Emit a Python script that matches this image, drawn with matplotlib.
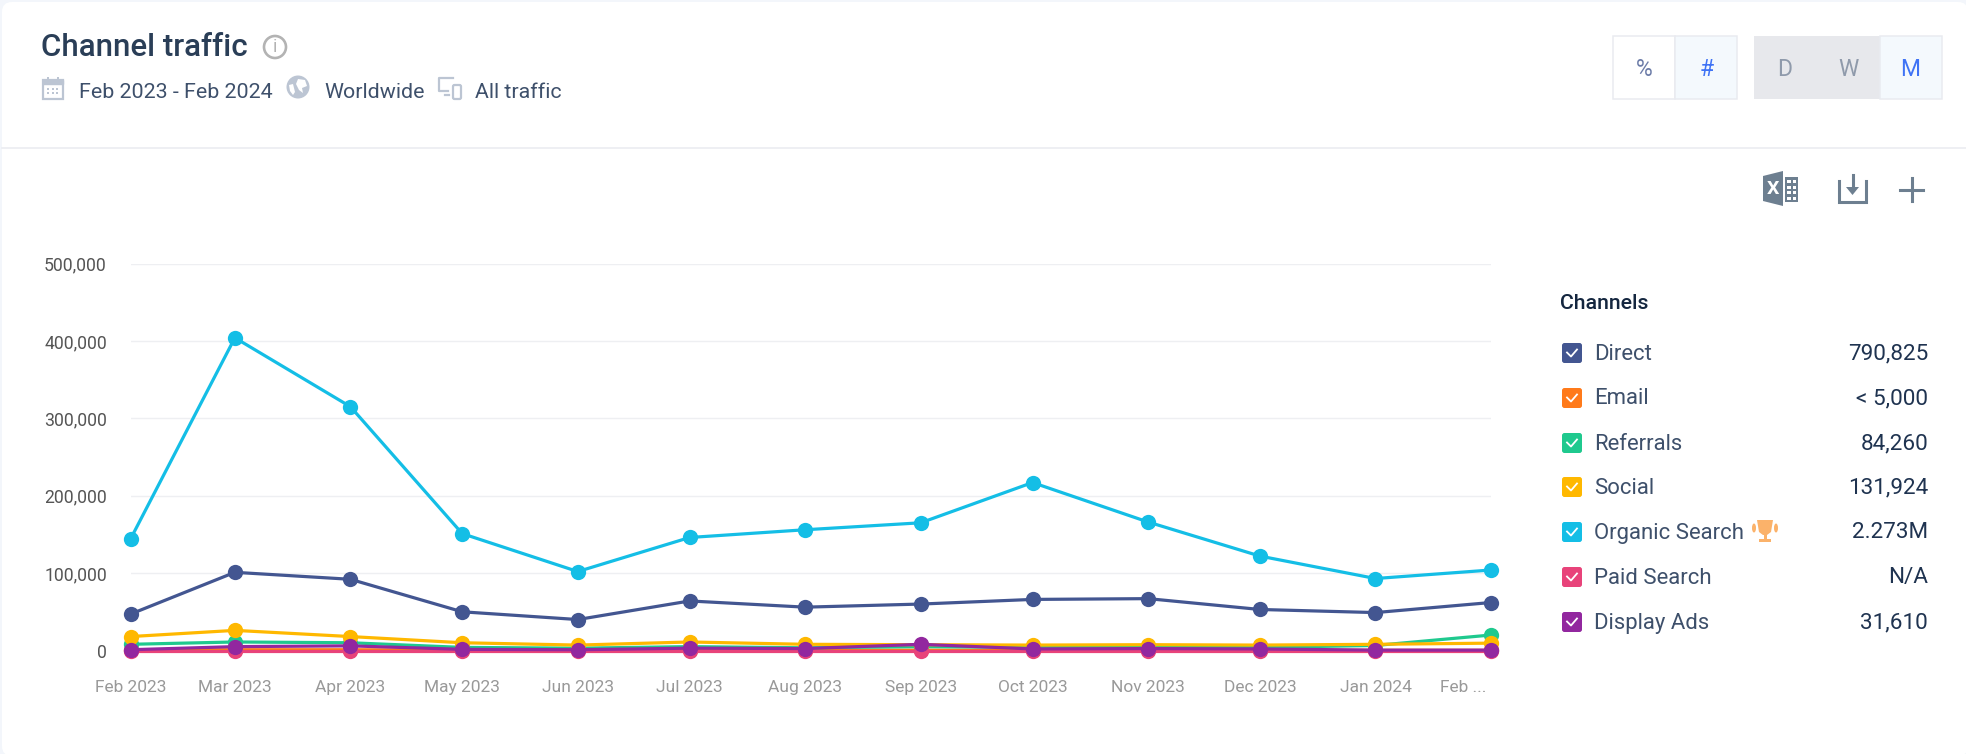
import numpy as np
import matplotlib
matplotlib.use("Agg")
import matplotlib.pyplot as plt
import matplotlib.dates as mdates
from matplotlib.patches import Rectangle, FancyBboxPatch, Circle, Polygon, Ellipse
from matplotlib.transforms import ScaledTranslation
from datetime import date

W, H = 1966, 754
plt.rcParams['font.family'] = ['Roboto', 'DejaVu Sans']

# data
months = [date(2023, m, 1) for m in range(2, 13)] + [date(2024, 1, 1), date(2024, 2, 1)]
month_labels = ["Feb 2023", "Mar 2023", "Apr 2023", "May 2023", "Jun 2023", "Jul 2023", "Aug 2023",
                "Sep 2023", "Oct 2023", "Nov 2023", "Dec 2023", "Jan 2024", "Feb ..."]
direct = [47000, 101000, 92000, 50000, 40000, 64000, 56000, 60000, 66000, 67000, 53000, 49000, 62000]
email = [500, 1000, 1000, 400, 300, 400, 300, 400, 300, 300, 300, 200, 200]
referrals = [8000, 11000, 10000, 4000, 3000, 5000, 3500, 5000, 4000, 4500, 4000, 6500, 20000]
social = [18000, 26000, 18000, 10000, 7000, 11000, 8000, 7500, 7000, 7500, 7000, 8000, 9500]
organic = [144000, 404000, 315000, 151000, 102000, 146000, 156000, 165000, 217000, 166000, 122000, 93000, 104000]
paid = [0, 0, 0, 0, 0, 0, 0, 0, 0, 0, 0, 0, 0]
display = [1000, 5000, 6000, 1500, 1000, 3000, 2500, 8000, 2000, 2500, 2000, 500, 500]

names = ["Direct", "Email", "Referrals", "Social", "Organic Search", "Paid Search", "Display Ads"]
totals = ["790,825", "< 5,000", "84,260", "131,924", "2.273M", "N/A", "31,610"]
colors = ["#435691", "#FF7A1A", "#1FC98E", "#FFB800", "#14BEE6", "#E8437A", "#92279F"]
series = [direct, email, referrals, social, organic, paid, display]
yticks = [0, 100000, 200000, 300000, 400000, 500000]

fig = plt.figure(figsize=(W / 100, H / 100), dpi=100, facecolor="white")

# page overlay in pixel coordinates, for the card and its controls
bg = fig.add_axes([0, 0, 1, 1], zorder=0)
bg.set_xlim(0, W); bg.set_ylim(H, 0); bg.axis("off")
bg.add_patch(Rectangle((0, 0), W, H, fc="#F3F6FB", ec="none"))
bg.add_patch(FancyBboxPatch((2, 2), W, H, boxstyle="round,pad=0,rounding_size=10", fc="white", ec="none"))
bg.plot([2, W], [148, 148], color="#E9EBF0", lw=1.1)

navy = "#2A3E57"
bg.text(41, 47.5, "Channel traffic", fontsize=22.5, fontweight=500, color=navy, va="center")
bg.add_patch(Circle((275, 47), 11, fc="none", ec="#B3B3B3", lw=1.9))
bg.text(275, 47, "i", fontsize=13, color="#B3B3B3", ha="center", va="center")
for x, s in [(79, "Feb 2023 - Feb 2024"), (324, "Worldwide"), (475, "All traffic")]:
    bg.text(x, 92.5, s, fontsize=15.4, color="#3E506B", va="center")

# little header icons
ic = "#BCC5D3"
bg.add_patch(Rectangle((43, 80), 20, 19, fc="none", ec=ic, lw=1.6))
bg.add_patch(Rectangle((43, 80), 20, 4, fc=ic, ec=ic, lw=1))
bg.add_patch(Rectangle((47, 77), 2, 4, fc=ic, ec="none"))
bg.add_patch(Rectangle((57, 77), 2, 4, fc=ic, ec="none"))
for i in range(3):
    for j in range(2):
        bg.add_patch(Rectangle((47 + i * 4.5, 88 + j * 4), 2.4, 2.4, fc=ic, ec="none"))
bg.add_patch(Circle((298, 87), 11.5, fc=ic, ec="none"))
bg.add_patch(Polygon([[298, 79], [305, 80], [307, 86], [302, 88], [303, 93], [299, 90], [296, 84]], fc="white", ec="none"))
bg.add_patch(Polygon([[289, 85], [293, 84], [295, 92], [293, 95], [290, 91]], fc="white", ec="none"))
bg.plot([453, 439, 439, 448], [78, 78, 91, 91], color=ic, lw=1.6)
bg.add_patch(FancyBboxPatch((453, 85), 8, 14, boxstyle="round,pad=0,rounding_size=1.5", fc="white", ec=ic, lw=1.6))
bg.plot([445, 449], [95, 95], color=ic, lw=1.6)

# % / # and D / W / M toggles
bg.add_patch(Rectangle((1613, 36), 62, 63, fc="white", ec="#E9EBF0", lw=1.1))
bg.add_patch(Rectangle((1675, 36), 62, 63, fc="#F4F9FD", ec="#E9EBF0", lw=1.1))
bg.add_patch(Rectangle((1754, 36), 126, 63, fc="#E7E8EC", ec="none"))
bg.add_patch(Rectangle((1880, 36), 62, 63, fc="#F4F9FD", ec="#E9EBF0", lw=1.1))
blue = "#3F73F5"
for x, s, c in [(1644, "%", "#6C7CA8"), (1707, "#", blue), (1785, "D", "#8F9AAB"), (1848, "W", "#8F9AAB"), (1910, "M", blue)]:
    bg.text(x, 69.5, s, fontsize=16.5, color=c, ha="center", va="center")

# toolbar icons
tool = "#6D7F90"
bg.add_patch(Polygon([[1763, 176], [1783, 171], [1783, 206], [1763, 201]], fc=tool, ec="none"))
bg.text(1773, 189, "X", fontsize=14, fontweight="bold", color="white", ha="center", va="center")
bg.add_patch(Rectangle((1785, 177), 13, 25, fc=tool, ec="none"))
for j in range(4):
    bg.add_patch(Rectangle((1787, 180 + j * 5.5), 4, 3, fc="white", ec="none"))
    bg.add_patch(Rectangle((1793, 180 + j * 5.5), 3, 3, fc="white", ec="none"))
bg.plot([1839, 1839, 1866, 1866], [181, 202, 202, 181], color=tool, lw=2.2, solid_joinstyle="miter")
bg.plot([1852.5, 1852.5], [175, 190], color=tool, lw=2.2)
bg.add_patch(Polygon([[1846, 187], [1859, 187], [1852.5, 195]], fc=tool, ec="none"))
bg.plot([1900, 1923], [189.5, 189.5], color=tool, lw=2.2)
bg.plot([1911.5, 1911.5], [178, 201], color=tool, lw=2.2)

# legend column
bg.text(1560, 303.5, "Channels", fontsize=15.3, fontweight=500, color="#14263F", va="center")
ly = [353, 398, 443, 487, 532, 577, 622]
for y, name, total, c in zip(ly, names, totals, colors):
    bg.add_patch(FancyBboxPatch((1562, y - 10), 20, 20, boxstyle="round,pad=0,rounding_size=2.5", fc=c, ec="none"))
    bg.plot([1567, 1571, 1577], [y - 0.5, y + 3.5, y - 3.5], color="white", lw=1.3)
    bg.text(1594.5, y + 1, name, fontsize=15.9, color="#3E506B", va="center")
    bg.text(1928, y + 1, total, fontsize=16.2, color="#1F3350", ha="right", va="center")
# trophy next to Organic Search
tro = "#FBB26A"
bg.add_patch(Polygon([[1757, 520], [1773, 520], [1771, 532], [1767, 535], [1763, 535], [1759, 532]], fc=tro, ec="none"))
bg.add_patch(Rectangle((1763.5, 534), 3, 5, fc=tro, ec="none"))
bg.add_patch(Rectangle((1759, 539), 12, 3, fc=tro, ec="none"))
bg.add_patch(Ellipse((1754, 528), 4, 9, fc=tro, ec="none"))
bg.add_patch(Ellipse((1776, 528), 4, 9, fc=tro, ec="none"))

# chart, x axis is real time so months fall unevenly like in the original
left, right, y0, y5 = 130.5, 1491, 650.5, 263.5
ax = fig.add_axes([left / W, 1 - y0 / H, (right - left) / W, (y0 - y5) / H], zorder=2)
ax.patch.set_alpha(0)
x = mdates.date2num(months)
for vals, c in zip(series, colors):
    ax.plot(x, vals, color=c, lw=2.3, marker="o", ms=11, mew=0, clip_on=False)
ax.set_xlim(x[0], x[-1])
ax.set_ylim(0, 500000)
ax.set_yticks(yticks)
ax.set_yticklabels([f"{v:,}" for v in yticks], fontsize=12.7, color="#555555")
ax.set_xticks(x)
ax.set_xticklabels(month_labels, fontsize=12.5, color="#999999")
ax.tick_params(axis="both", length=0)
ax.tick_params(axis="y", pad=17)
ax.tick_params(axis="x", pad=21)
# the last label is cut short and pulled inside the plot edge
last = ax.get_xticklabels()[-1]
last.set_ha("right")
last.set_transform(last.get_transform() + ScaledTranslation(-5 / 100, 0, fig.dpi_scale_trans))
ax.grid(axis="y", color="#EEEFF2", lw=1)
ax.set_axisbelow(True)
for s in ax.spines.values():
    s.set_visible(False)
ax.axhline(0, color="#5A5A5A", lw=1, zorder=1.5)

fig.savefig("out.png", dpi=100)
